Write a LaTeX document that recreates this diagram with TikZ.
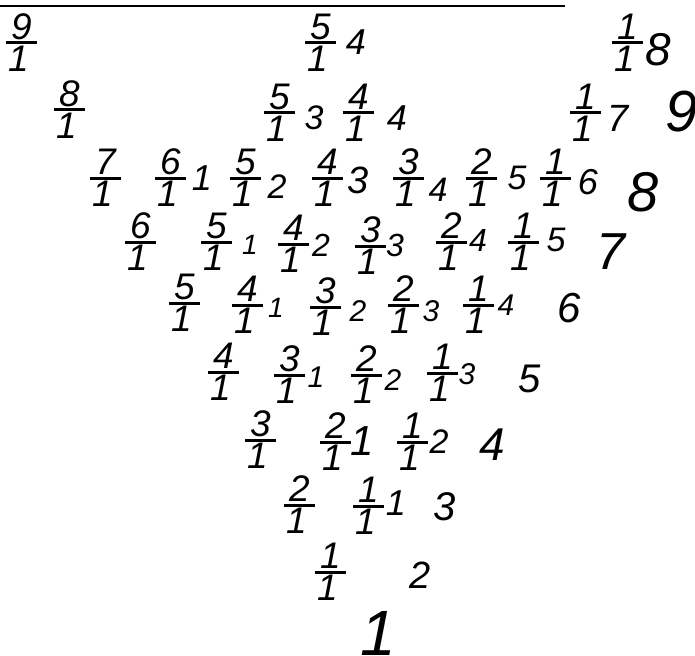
\documentclass[tikz,border=0pt]{standalone}
\usepackage{fontspec}
\setmainfont{Liberation Sans}
\begin{document}
\begin{tikzpicture}[x=1pt,y=-1pt,
  hand/.style={inner sep=0pt,font=\itshape\fontsize{37}{39}\selectfont},
  num/.style={inner sep=0pt,font=\itshape\fontsize{#1}{#1}\selectfont},
  bar/.style={line width=3pt}]
\useasboundingbox (0,0) rectangle (695,655);
\draw[line width=2.4pt] (0,6) -- (565,6);
% fractions
\foreach \n/\x/\y/\t in {
 a1/22/43/9, a2/321/43/5, a3/628/43/1,
 b1/70/110/8, b2/280/113/5, b3/359/113/4, b4/586/113/1,
 c1/106/178/7, c2/171/178/6, c3/246/178/5, c4/328/178/4, c5/409/178/3, c6/482/178/2, c7/556/178/1,
 d1/141/242/6, d2/217/242/5, d3/294/244/4, d4/371/246/3, d5/452/242/2, d6/524/242/1,
 e1/185/303/5, e2/248/305/4, e3/326/307/3, e4/404/305/2, e5/479/305/1,
 f1/224/372/4, f2/290/375/3, f3/367/375/2, f4/443/373/1,
 g1/261/440/3, g2/336/442/2, g3/413/442/1,
 h1/300/505/2, h2/369/506/1,
 i1/331/572/1}
{
 \coordinate (fr\n) at (\x,\y);
 \node[hand,anchor=south] (fr\n-t) at ([yshift=3pt]fr\n) {\t};
 \node[hand,anchor=north] (fr\n-b) at ([yshift=-3pt,xshift=-3pt]fr\n) {1};
 \draw[bar] ([xshift=-16pt]fr\n) -- ([xshift=15pt]fr\n);
}
% trailing numbers
\foreach \n/\x/\y/\t/\s in {
 a2/356/42/4/36, a3/658/50/8/46,
 b2/314/118/3/34, b3/397/118/4/36, b4/618/118/7/38, b5/682/112/9/58,
 c2/202/178/1/36, c3/277/187/2/34, c4/358/180/3/38, c5/438/190/4/34, c6/517/178/5/34, c7/588/182/6/36, c8/643/192/8/56,
 d2/250/245/1/28, d3/321/245/2/32, d4/395/245/3/32, d5/478/240/4/32, d6/556/240/5/34, d7/611/252/7/52,
 e2/276/308/1/28, e3/358/311/2/30, e4/431/311/3/30, e5/506/305/4/30, e6/569/308/6/42,
 f2/316/377/1/30, f3/393/380/2/30, f4/467/374/3/30, f5/530/379/5/40,
 g2/362/441/1/42, g3/439/442/2/34, g4/492/445/4/46,
 h2/396/503/1/36, h3/445/507/3/40,
 i2/420/575/2/38,
 j1/378/633/1/64}
 \node[num=\s] (n\n) at (\x,\y) {\t};
\end{tikzpicture}
\end{document}
